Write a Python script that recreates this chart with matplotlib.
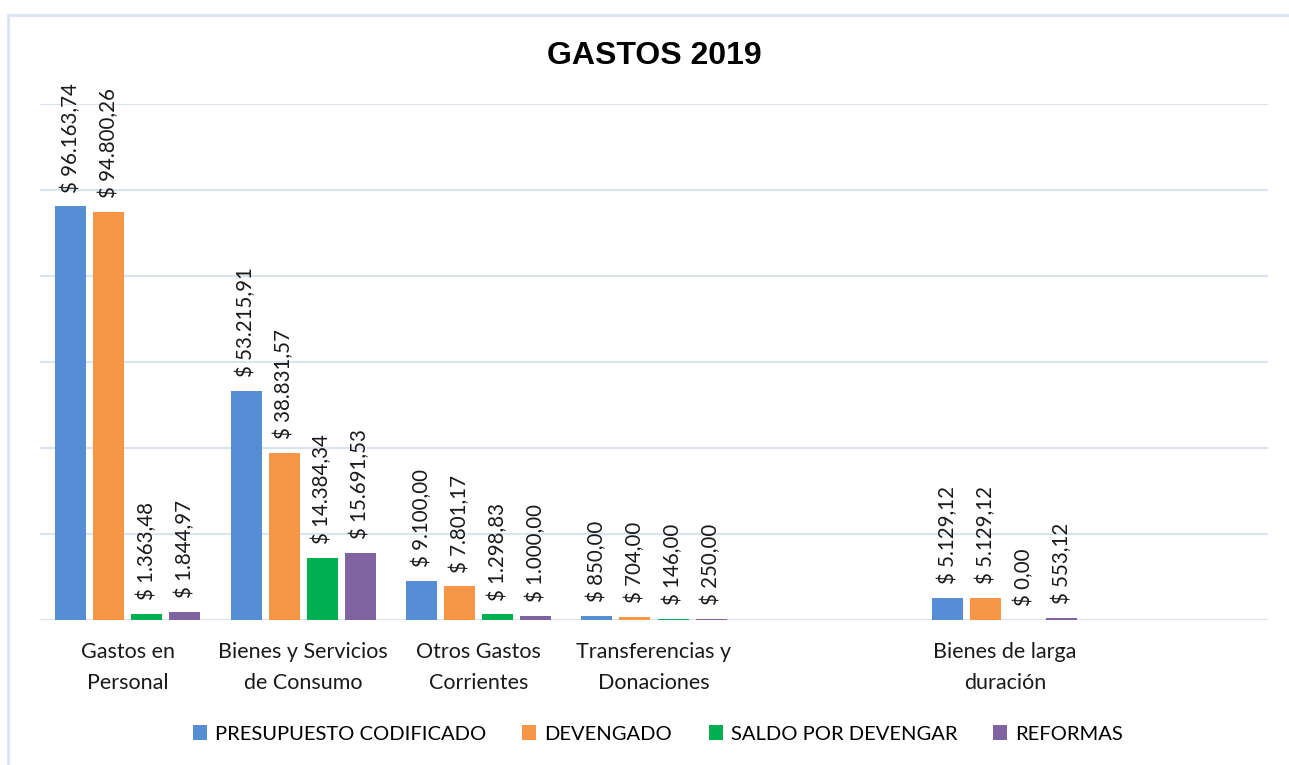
import matplotlib
matplotlib.use("Agg")
import matplotlib.pyplot as plt
import numpy as np

# data
categories = ["Gastos en\nPersonal", "Bienes y Servicios\nde Consumo", "Otros Gastos\nCorrientes",
              "Transferencias y\nDonaciones", "", "Bienes de larga\nduración", ""]
series_names = ["PRESUPUESTO CODIFICADO", "DEVENGADO", "SALDO POR DEVENGAR", "REFORMAS"]
presupuesto = [96163.74, 53215.91, 9100.00, 850.00, None, 5129.12, None]
devengado = [94800.26, 38831.57, 7801.17, 704.00, None, 5129.12, None]
saldo = [1363.48, 14384.34, 1298.83, 146.00, None, 0.00, None]
reformas = [1844.97, 15691.53, 1000.00, 250.00, None, 553.12, None]
colors = ["#558ED5", "#F79646", "#00B050", "#8064A2"]


def money(v):
    s = "{:,.2f}".format(v)
    s = s.replace(",", "X").replace(".", ",").replace("X", ".")
    return "$ " + s


plt.rcParams['font.family'] = ['Lato', 'DejaVu Sans']
fig = plt.figure(figsize=(12.89, 7.65), dpi=100)
ax = fig.add_axes([40 / 1289, 1 - 620 / 765, (1268 - 40) / 1289, (620 - 104) / 765])

# outer chart border
fig.patches.append(plt.Rectangle((8 / 1289, -0.05), 1.1, 1 - 15 / 765 + 0.05,
                                 transform=fig.transFigure, fill=False,
                                 edgecolor="#D9E3F2", linewidth=2))

x = np.arange(len(categories))
pitch = 0.217
width = 0.177
all_series = [presupuesto, devengado, saldo, reformas]
for i, (vals, name, col) in enumerate(zip(all_series, series_names, colors)):
    xs = [xi + (i - 1.5) * pitch for xi, v in zip(x, vals) if v is not None]
    vs = [v for v in vals if v is not None]
    ax.bar(xs, vs, width, color=col, label=name, zorder=3)
    for xx, vv in zip(xs, vs):
        ax.annotate(money(vv), (xx, vv), xytext=(0, 10), textcoords="offset points",
                    rotation=90, ha="center", va="bottom", fontsize=14.8, color="#1a1a1a")

ax.set_xlim(-0.5, len(categories) - 0.5)
ax.set_ylim(0, 120000)
ax.set_yticks(np.arange(0, 120001, 20000))
ax.yaxis.grid(True, color="#D9E3F2", linewidth=1.5, zorder=0)
ax.set_yticklabels([])
ax.tick_params(axis="y", length=0)
ax.set_xticks(x)
ax.set_xticklabels(categories, fontsize=15.5, linespacing=1.65, color="#1a1a1a")
ax.tick_params(axis="x", length=0, pad=16)
for sp in ax.spines.values():
    sp.set_visible(False)

fig.text(654 / 1289, 1 - 56 / 765, "GASTOS 2019", ha="center", va="center",
         fontsize=23, fontweight="bold", family="Liberation Sans")

fig.legend(loc="center", bbox_to_anchor=(658 / 1289, 1 - 734 / 765), ncol=4,
           frameon=False, fontsize=14.5, handlelength=0.7, handleheight=0.7,
           columnspacing=1.8, handletextpad=0.4)

fig.savefig("out.png", dpi=100)
